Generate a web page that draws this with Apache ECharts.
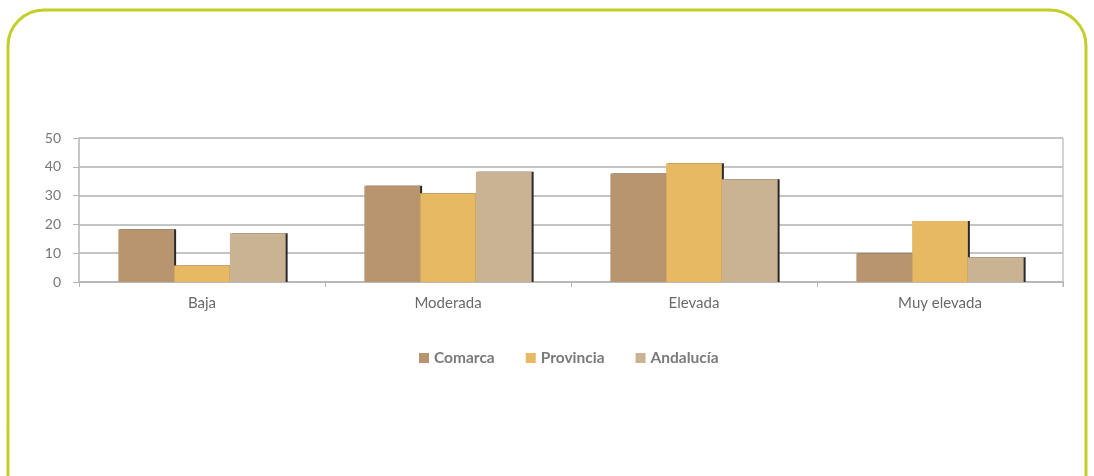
<!DOCTYPE html>
<html>
<head>
<meta charset="utf-8">
<script src="https://cdn.jsdelivr.net/npm/echarts@6/dist/echarts.min.js"></script>
<style>
  html, body { margin: 0; padding: 0; background: #ffffff; }
  #main { width: 1094px; height: 476px; }
</style>
</head>
<body>
<div id="main"></div>
<script>
const categories = ['Baja', 'Moderada', 'Elevada', 'Muy elevada'];
const seriesNames = ['Comarca', 'Provincia', 'Andalucía'];
const comarca = [18.3, 33.4, 37.7, 10.0];
const provincia = [5.7, 30.8, 41.2, 21.2];
const andalucia = [16.9, 38.3, 35.7, 8.6];
const yTicks = [0, 10, 20, 30, 40, 50];

const colors = ['#b8956e', '#e7b962', '#c9b393'];
const font = 'Lato, "Open Sans", sans-serif';

const chart = echarts.init(document.getElementById('main'), null, { renderer: 'canvas' });

function barSeries(name, data, i) {
  return {
    name: name,
    type: 'bar',
    data: data,
    barGap: '0%',
    barCategoryGap: '32%',
    itemStyle: {
      color: colors[i],
      shadowColor: '#2a2a2a',
      shadowOffsetX: 2,
      shadowOffsetY: 0,
      shadowBlur: 0
    }
  };
}

const option = {
  backgroundColor: '#ffffff',
  animation: false,
  graphic: [{
    type: 'rect',
    shape: { x: 8, y: 10, width: 1078, height: 520, r: 36 },
    style: { fill: 'none', stroke: '#c3cf28', lineWidth: 3 },
    silent: true
  }, {
    // right edge line of the plot area
    type: 'line',
    shape: { x1: 1063, y1: 138, x2: 1063, y2: 287 },
    style: { stroke: '#c4c4c4', lineWidth: 1.5 },
    silent: true
  }],
  grid: { left: 79, right: 31, top: 138, bottom: 194 },
  legend: {
    data: seriesNames,
    top: 345,
    left: 414,
    itemWidth: 10,
    itemHeight: 10,
    itemGap: 31,
    icon: 'rect',
    textStyle: { fontFamily: font, fontSize: 15.5, fontWeight: 'bold', color: '#7a7a7a' }
  },
  xAxis: {
    type: 'category',
    data: categories,
    axisLine: { lineStyle: { color: '#b5b5b5', width: 1.5 } },
    axisTick: { show: true, length: 5, lineStyle: { color: '#b5b5b5' } },
    axisLabel: { fontFamily: font, fontSize: 15, color: '#6a6a6a', margin: 14 },
    splitLine: { show: false }
  },
  yAxis: {
    type: 'value',
    min: yTicks[0],
    max: yTicks[yTicks.length - 1],
    interval: 10,
    axisLine: { show: true, lineStyle: { color: '#b5b5b5', width: 1.5 } },
    axisTick: { show: true, length: 6, lineStyle: { color: '#b5b5b5' } },
    axisLabel: { fontFamily: font, fontSize: 14, color: '#777777', margin: 18 },
    splitLine: { show: true, lineStyle: { color: '#c4c4c4', width: 2 } }
  },
  series: [
    barSeries(seriesNames[0], comarca, 0),
    barSeries(seriesNames[1], provincia, 1),
    barSeries(seriesNames[2], andalucia, 2)
  ]
};

chart.setOption(option);
</script>
</body>
</html>
